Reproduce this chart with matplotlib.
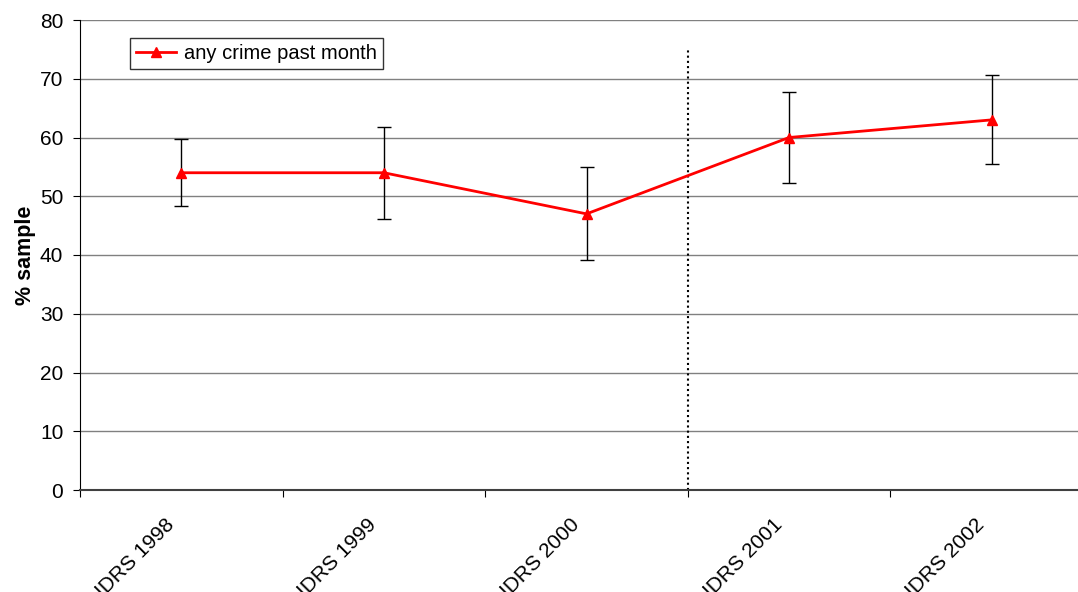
import numpy as np
import matplotlib.pyplot as plt
import matplotlib.transforms as mtransforms

plt.rcParams['font.family'] = ['Liberation Sans', 'DejaVu Sans']

# data
surveys = ['IDRS 1998', 'IDRS 1999', 'IDRS 2000', 'IDRS 2001', 'IDRS 2002']
crime_pct = [54, 54, 47, 60, 63]
ci_low = [48.3, 46.1, 39.1, 52.3, 55.5]
ci_high = [59.7, 61.8, 55.0, 67.7, 70.6]
divider_top = 75.2

x = np.arange(len(surveys))
yerr = [np.array(crime_pct) - np.array(ci_low), np.array(ci_high) - np.array(crime_pct)]

fig = plt.figure(figsize=(10.78, 5.92), dpi=100)
ax = fig.add_axes([80/1078, 102/592, 1013/1078, 470/592])

ax.errorbar(x, crime_pct, yerr=yerr, fmt='none', ecolor='black', elinewidth=1,
            capsize=5, capthick=1, zorder=3)
ax.plot(x, crime_pct, color='red', lw=2, marker='^', ms=7, label='any crime past month', zorder=4)

# dotted divider between 2000 and 2001
ax.plot([2.5, 2.5], [0, divider_top], color='black', ls=(0, (1, 1.5)), lw=1.5, zorder=2)

ax.set_xlim(-0.5, 4.5)
ax.set_ylim(0, 80)
ax.set_yticks(np.arange(0, 81, 10))
ax.yaxis.grid(True, color='#808080', lw=1)
ax.set_axisbelow(True)

ax.set_xticks(x - 0.5, minor=False)
ax.set_xticklabels([])
ax.set_xticks(x, minor=True)
ax.set_xticklabels(surveys, minor=True, rotation=45, ha='right', va='center',
                   rotation_mode='anchor', fontsize=15)
ax.tick_params(axis='x', which='minor', length=0, pad=23)
ax.tick_params(axis='x', which='major', length=5, direction='out')
ax.tick_params(axis='y', labelsize=15, length=5, pad=7)

# nudge the rotated labels left a little
shift = mtransforms.ScaledTranslation(-10/100, 0, fig.dpi_scale_trans)
for lab in ax.get_xticklabels(minor=True):
    lab.set_transform(lab.get_transform() + shift)

for s in ['top', 'right']:
    ax.spines[s].set_visible(False)
ax.spines['left'].set_color('black')
ax.spines['bottom'].set_color('#404040')
ax.spines['bottom'].set_linewidth(1.5)

ax.set_ylabel('% sample', fontsize=15.5, fontweight='bold', labelpad=3)

leg = ax.legend(loc='upper left', bbox_to_anchor=(50/1013, 0.962), fontsize=14.5, frameon=True,
                fancybox=False, edgecolor='black', handlelength=2, handletextpad=0.4,
                borderpad=0.3, borderaxespad=0)
leg.get_frame().set_linewidth(1)

fig.savefig('out.png', dpi=100)
